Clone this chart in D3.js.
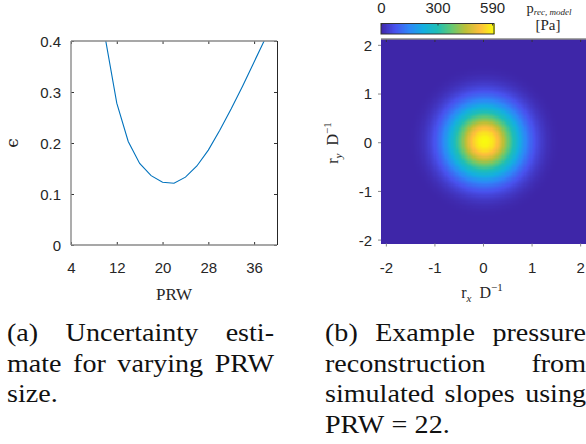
<!DOCTYPE html>
<html><head><meta charset="utf-8">
<script src="https://cdn.jsdelivr.net/npm/d3@7"></script>
<style>body{margin:0;background:#fff} svg{display:block}</style>
</head><body>
<svg id="c" width="586" height="444"></svg>
<script>
// ---------- Panel (a): uncertainty vs PRW ----------
const prw     = [8, 10, 12, 14, 16, 18, 20, 22, 24, 26, 28, 30, 32, 34, 36, 38];
const epsilon = [0.62, 0.405, 0.278, 0.203, 0.160, 0.136, 0.123, 0.121, 0.133, 0.155, 0.186, 0.225, 0.267, 0.312, 0.359, 0.406];
const xTicksA = [4, 12, 20, 28, 36];
const yTicksA = [0, 0.1, 0.2, 0.3, 0.4];

// ---------- Panel (b): reconstructed pressure (radial profile) ----------
const radius   = [0, 0.1, 0.2, 0.3, 0.4, 0.5, 0.6, 0.7, 0.8, 0.9, 1.0, 1.1, 1.2, 1.3, 1.4, 1.5, 1.6];
const pressure = [600, 590, 560, 510, 440, 370, 300, 235, 175, 125, 85, 55, 32, 16, 6, 1, 0];
const blobCenter = [0.03, 0.03];
const ticksB  = [-2, -1, 0, 1, 2];
const cbTicks = [0, 300, 590];
const cbRange = [0, 600];

// parula-like colormap stops
const parulaPos = [0, 0.125, 0.25, 0.375, 0.5, 0.625, 0.75, 0.875, 1];
const parulaCol = ["#3e26a8", "#4852ee", "#2e87f7", "#14afe0", "#1fbeb5", "#64c873", "#bdbf37", "#fdbe3c", "#f9fb0e"];

// ---------- captions ----------
const captionA = [["(a)", "Uncertainty", "esti-"], ["mate", "for", "varying", "PRW"], ["size."]];
const captionB = [["(b)", "Example", "pressure"], ["reconstruction", "from"], ["simulated", "slopes", "using"], ["PRW", "=", "22."]];

const SANS = "'Liberation Sans', Arial, Helvetica, sans-serif";
const SERIF = "'Liberation Serif', 'DejaVu Serif', serif";
const TXT = "#262626";
const svg = d3.select("#c");

// ================= Panel (a) =================
const xA = d3.scaleLinear().domain([4, 40]).range([71, 277]);
const yA = d3.scaleLinear().domain([0, 0.4]).range([245, 41]);

svg.append("clipPath").attr("id", "clipA").append("rect")
  .attr("x", 71).attr("y", 41).attr("width", 206).attr("height", 204);

svg.append("path").datum(d3.zip(prw, epsilon))
  .attr("clip-path", "url(#clipA)")
  .attr("fill", "none").attr("stroke", "#0072bd").attr("stroke-width", 1.1)
  .attr("d", d3.line().x(d => xA(d[0])).y(d => yA(d[1])));

function styleAxis(g, showText) {
  g.attr("font-family", SANS).attr("font-size", 15);
  g.select(".domain").remove();
  g.selectAll(".tick line").attr("stroke", "#333").attr("stroke-width", 1);
  if (!showText) g.selectAll(".tick text").remove();
  else g.selectAll(".tick text").attr("fill", TXT);
}
const gxA = svg.append("g").attr("transform", "translate(0,245)")
  .call(d3.axisBottom(xA).tickValues(xTicksA).tickSize(-3).tickFormat(d => String(d)));
styleAxis(gxA, true);
gxA.selectAll(".tick text").attr("y", 28).attr("dy", null);

svg.append("g").attr("transform", "translate(0,41)")
  .call(d3.axisTop(xA).tickValues(xTicksA).tickSize(-3)).call(g => styleAxis(g, false));

const gyA = svg.append("g").attr("transform", "translate(71,0)")
  .call(d3.axisLeft(yA).tickValues(yTicksA).tickSize(-3).tickPadding(10)
    .tickFormat(d => d === 0 ? "0" : d.toFixed(1)));
styleAxis(gyA, true);
gyA.selectAll(".tick text").attr("dy", "0.36em");

svg.append("g").attr("transform", "translate(277,0)")
  .call(d3.axisRight(yA).tickValues(yTicksA).tickSize(-3)).call(g => styleAxis(g, false));

// box
const boxA = svg.append("g").attr("fill", "none");
boxA.append("line").attr("x1", 71).attr("x2", 277).attr("y1", 41).attr("y2", 41).attr("stroke", "#8a8a8a").attr("stroke-width", 1.4);
boxA.append("line").attr("x1", 71).attr("x2", 277).attr("y1", 245).attr("y2", 245).attr("stroke", "#8a8a8a").attr("stroke-width", 1.4);
boxA.append("line").attr("x1", 71).attr("x2", 71).attr("y1", 41).attr("y2", 245).attr("stroke", "#8a8a8a").attr("stroke-width", 1.4);
boxA.append("line").attr("x1", 277.5).attr("x2", 277.5).attr("y1", 41).attr("y2", 245).attr("stroke", "#262626").attr("stroke-width", 1);

svg.append("text").attr("x", 174).attr("y", 300).attr("text-anchor", "middle")
  .attr("font-family", SERIF).attr("font-size", 17).attr("fill", TXT).text("PRW");
svg.append("text").attr("transform", "translate(18,143) rotate(-90)").attr("text-anchor", "middle")
  .attr("font-family", "'DejaVu Serif', serif").attr("font-size", 17).attr("fill", TXT).text("\u03F5");

// ================= Panel (b) =================
const xB = d3.scaleLinear().domain([-2.1, 2.1]).range([381, 585]);
const yB = d3.scaleLinear().domain([-2.08, 2.12]).range([243.5, 39]);
const color = d3.scaleLinear().domain(parulaPos.map(p => cbRange[0] + p * (cbRange[1] - cbRange[0])))
  .range(parulaCol).interpolate(d3.interpolateRgb).clamp(true);
const profile = d3.scaleLinear().domain(radius).range(pressure).clamp(true);

const step = 0.025;
const gx = d3.range(-2.1, 2.1 - 1e-9, step);
const gy = d3.range(-2.08, 2.12 - 1e-9, step);
const cells = [];
gx.forEach(x => gy.forEach(y => {
  const r = Math.hypot(x + step / 2 - blobCenter[0], y + step / 2 - blobCenter[1]);
  cells.push({x, y, v: profile(r)});
}));
svg.append("g").attr("shape-rendering", "crispEdges").selectAll("rect").data(cells).join("rect")
  .attr("x", d => xB(d.x)).attr("y", d => yB(d.y + step))
  .attr("width", xB(step) - xB(0) + 0.6).attr("height", yB(0) - yB(step) + 0.6)
  .attr("fill", d => color(d.v));

// axes of panel b
const gxB = svg.append("g").attr("transform", "translate(0,243.5)")
  .call(d3.axisBottom(xB).tickValues(ticksB).tickSize(3).tickFormat(d => String(d)));
styleAxis(gxB, true);
gxB.selectAll(".tick line").attr("stroke", "#888");
gxB.selectAll(".tick text").attr("y", 29.5).attr("dy", null);
const gyB = svg.append("g").attr("transform", "translate(381,0)")
  .call(d3.axisLeft(yB).tickValues(ticksB).tickSize(3).tickPadding(6).tickFormat(d => String(d)));
styleAxis(gyB, true);
gyB.selectAll(".tick line").attr("stroke", "#888");
gyB.selectAll(".tick text").attr("dy", "0.36em");
svg.append("g").attr("transform", "translate(0,39)")
  .call(d3.axisTop(xB).tickValues(ticksB).tickSize(-3)).call(g => styleAxis(g, false));
svg.append("line").attr("x1", 381).attr("x2", 586).attr("y1", 39).attr("y2", 39).attr("stroke", "#8a8a8a").attr("stroke-width", 1.4);

// labels b
const yl = svg.append("text").attr("transform", "translate(338,143) rotate(-90)").attr("text-anchor", "middle")
  .attr("font-family", SERIF).attr("font-size", 16).attr("fill", TXT);
yl.append("tspan").text("r");
yl.append("tspan").attr("font-size", 11).attr("font-style", "italic").attr("dy", 4).text("y");
yl.append("tspan").attr("dy", -4).text("\u2002D");
yl.append("tspan").attr("font-size", 11).attr("dy", -7).text("\u22121");

const xl = svg.append("text").attr("x", 482).attr("y", 298).attr("text-anchor", "middle")
  .attr("font-family", SERIF).attr("font-size", 16).attr("fill", TXT);
xl.append("tspan").text("r");
xl.append("tspan").attr("font-size", 11).attr("font-style", "italic").attr("dy", 4).text("x");
xl.append("tspan").attr("dy", -4).text("\u2002D");
xl.append("tspan").attr("font-size", 11).attr("dy", -7).text("\u22121");

// colorbar
const xC = d3.scaleLinear().domain(cbRange).range([381, 494]);
const cbVals = d3.range(cbRange[0], cbRange[1], 2);
svg.append("g").attr("shape-rendering", "crispEdges").selectAll("rect").data(cbVals).join("rect")
  .attr("x", d => xC(d)).attr("y", 23.5).attr("width", xC(2) - xC(0) + 0.5).attr("height", 10.5)
  .attr("fill", d => color(d + 1));
svg.append("rect").attr("x", 381).attr("y", 23.5).attr("width", 113).attr("height", 10.5)
  .attr("fill", "none").attr("stroke", "#333").attr("stroke-width", 1);
const gC = svg.append("g").attr("transform", "translate(0,23.5)")
  .call(d3.axisTop(xC).tickValues(cbTicks).tickSize(-2).tickFormat(d => String(d)));
styleAxis(gC, true);
gC.selectAll(".tick text").attr("y", -10.5).attr("dy", null);

const cl = svg.append("text").attr("x", 549).attr("y", 12.5).attr("text-anchor", "middle")
  .attr("font-family", SERIF).attr("font-size", 14.5).attr("fill", TXT);
cl.append("tspan").text("p");
cl.append("tspan").attr("font-size", 9).attr("font-style", "italic").attr("dy", 2.5).text("rec, model");
svg.append("text").attr("x", 548).attr("y", 30).attr("text-anchor", "middle")
  .attr("font-family", SERIF).attr("font-size", 15).attr("fill", TXT).text("[Pa]");

// ================= captions =================
const CAP_FS = 26, STRETCH = 1.08;
function caption(lines, x0, x1, baselines) {
  lines.forEach((words, i) => {
    const g = svg.append("g").attr("font-family", SERIF).attr("font-size", CAP_FS).attr("fill", "#111");
    const els = words.map(w => g.append("text").attr("y", baselines[i]).text(w));
    const widths = els.map(e => e.node().getComputedTextLength() * STRETCH);
    els.forEach((e, k) => e.attr("textLength", widths[k]).attr("lengthAdjust", "spacingAndGlyphs"));
    const total = d3.sum(widths);
    const justify = i < lines.length - 1 && words.length > 1;
    const gap = justify ? (x1 - x0 - total) / (words.length - 1)
                        : (words.includes("=") ? 0.278 * CAP_FS : 0.333 * CAP_FS);
    let x = x0;
    els.forEach((e, k) => { e.attr("x", x); x += widths[k] + gap; });
  });
}
caption(captionA, 7, 274, [341, 372, 402]);
caption(captionB, 325, 586, [341, 372, 402, 433]);
</script>
</body></html>
